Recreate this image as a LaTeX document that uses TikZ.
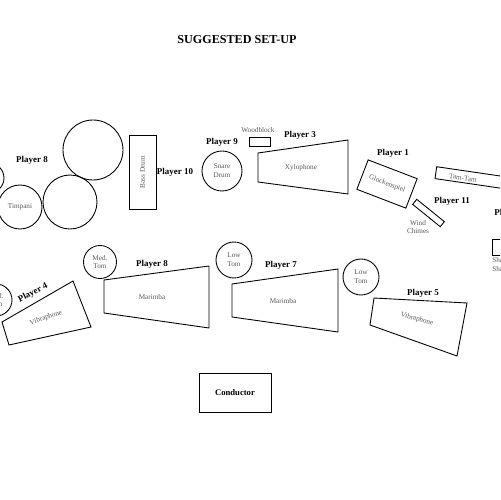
\documentclass[tikz,border=0pt]{standalone}
\usepackage{fontspec}
\setmainfont{Liberation Serif}
\begin{document}
\begin{tikzpicture}[x=0.02cm,y=-0.02cm,
  lbl/.style={font=\fontsize{5.1}{6}\selectfont\bfseries, inner sep=0pt},
  inst/.style={font=\fontsize{4.1}{5}\selectfont, text=black!65, align=center, inner sep=0pt},
  shp/.style={draw, line width=0.5pt},
  drum/.style={circle, draw, line width=0.5pt, inner sep=0pt, font=\fontsize{4.1}{5}\selectfont, text=black!65, align=center},
  box/.style={rectangle, draw, line width=0.5pt, inner sep=0pt, font=\fontsize{4.1}{5}\selectfont, text=black!65, align=center}]
\useasboundingbox (0,0) rectangle (500,500);
\clip (0,0) rectangle (500,500);
\fill[white] (0,0) rectangle (500,500);

% title
\node[font=\fontsize{6.9}{8}\selectfont\bfseries, inner sep=0pt] (title) at (237,40) {SUGGESTED SET-UP};

% player labels
\node[lbl] (p8a) at (32,160) {Player 8};
\node[lbl] (p10) at (175,172) {Player 10};
\node[lbl] (p9) at (222,142) {Player 9};
\node[lbl] (p3) at (300,135) {Player 3};
\node[lbl] (p1) at (393,153) {Player 1};
\node[lbl] (p11) at (452,201) {Player 11};
\node[lbl, anchor=west] (p2) at (494,213) {Player 2};
\node[lbl, rotate=27] (p4) at (33,293) {Player 4};
\node[lbl] (p8b) at (152,264) {Player 8};
\node[lbl] (p7) at (281,265) {Player 7};
\node[lbl] (p5) at (423,293) {Player 5};

% left timpani group
\node[drum, minimum size=0.6cm] (timp0) at (-11,178) {};
\node[drum, minimum size=0.88cm] (timp1) at (20,207) {Timpani};
\node[drum, minimum size=1.08cm] (timp2) at (70,202) {};
\node[drum, minimum size=1.2cm] (timp3) at (93,150) {};

% bass drum
\node[box, minimum width=0.54cm, minimum height=1.48cm] (bd) at (142.5,172) {};
\node[inst, rotate=90] (bdt) at (bd.center) {Bass Drum};

% snare, woodblock
\node[drum, minimum size=0.8cm] (snare) at (222,171) {Snare\\Drum};
\node[box, minimum width=0.42cm, minimum height=0.18cm] (wb) at (259.5,141.5) {};
\node[inst] (wbt) at (258,130) {Woodblock};

% xylophone
\draw[shp] (258,153) -- (348,140) -- (348,194) -- (258,182) -- cycle;
\node[inst] (xyl) at (301,168) {Xylophone};

% glockenspiel
\node[box, rotate=-21, minimum width=1.05cm, minimum height=0.63cm] (glock) at (387,184) {Glockenspiel};

% tam-tam
\node[box, rotate=-8.3, minimum width=1.34cm, minimum height=0.24cm] (tam) at (469,177.5) {};
\node[inst, rotate=-8.3] (tamt) at (463,178) {Tam-Tam};

% wind chimes
\node[box, rotate=-39, minimum width=0.71cm, minimum height=0.13cm] (wc) at (428.5,213) {};
\node[inst] (wct) at (418,227) {Wind\\Chimes};

% right edge small box
\node[box, minimum width=0.34cm, minimum height=0.32cm] (sh) at (501,247) {};
\node[inst, anchor=north west, align=left] (sht) at (492,257) {Shaker\\Shaker};

% bottom left
\node[drum, minimum size=0.64cm] (tomL) at (-4,300) {Med.\\Tom};
\draw[shp] (2,322) -- (73,281) -- (91,327) -- (9,345) -- cycle;
\node[inst, rotate=19] (vib1) at (46,318) {Vibraphone};

% med tom, marimba 1
\node[drum, minimum size=0.66cm] (medtom) at (100,262) {Med.\\Tom};
\draw[shp] (104,280) -- (209,266) -- (209,328) -- (104,313) -- cycle;
\node[inst] (mar1) at (152,297) {Marimba};

% low tom, marimba 2
\node[drum, minimum size=0.72cm] (lowtom1) at (234,260) {Low\\Tom};
\draw[shp] (232,284) -- (338,269) -- (338,332) -- (232,317) -- cycle;
\node[inst] (mar2) at (283,301) {Marimba};

% low tom 2, vibraphone 2
\node[drum, minimum size=0.72cm] (lowtom2) at (361,277) {Low\\Tom};
\draw[shp] (374,298) -- (467,303) -- (457,356) -- (370,325) -- cycle;
\node[inst, rotate=-15] (vib2) at (417,319) {Vibraphone};

% conductor
\node[rectangle, draw, line width=0.5pt, minimum width=1.44cm, minimum height=0.78cm, font=\fontsize{4.9}{6}\selectfont\bfseries] (cond) at (235,392.5) {Conductor};
\end{tikzpicture}
\end{document}
